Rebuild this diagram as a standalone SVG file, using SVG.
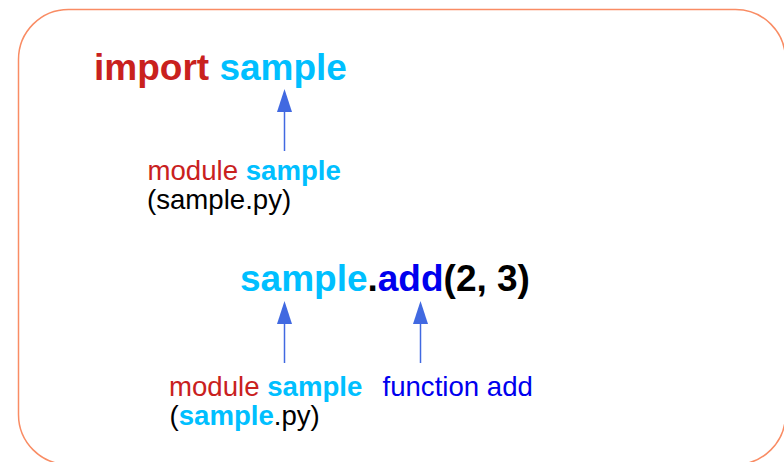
<svg xmlns="http://www.w3.org/2000/svg" width="784" height="462" viewBox="0 0 784 462">
<style>
text{font-family:"Liberation Sans",Arial,sans-serif;}
.big{font-size:37px;font-weight:bold;}
.lbl{font-size:27.6px;}
.red{fill:#c9211e;}
.sky{fill:#00bfff;font-weight:bold;}
.blue{fill:#0000ee;}
.blk{fill:#000000;}
.conn{stroke:#4169e1;stroke-width:1.5;fill:none;marker-end:url(#ah);}
</style>
<defs>
<marker id="ah" viewBox="0 0 23 15" refX="0" refY="7.5" markerWidth="23" markerHeight="15" markerUnits="userSpaceOnUse" orient="auto">
<path d="M0,0 L23,7.5 L0,15 Z" fill="#4169e1"/>
</marker>
</defs>
<rect id="frame" x="18.5" y="9.5" width="767" height="455" rx="50" ry="50" fill="none" stroke="#f98c64" stroke-width="1.5"/>
<g id="import-stmt">
<text class="big" x="94" y="80"><tspan class="red">import</tspan> <tspan class="sky">sample</tspan></text>
</g>
<g id="module-label-1">
<text class="lbl" x="147.5" y="180"><tspan class="red">module</tspan> <tspan class="sky">sample</tspan></text>
<text class="lbl blk" x="147" y="209">(sample.py)</text>
</g>
<g id="call-stmt">
<text class="big" x="240" y="291"><tspan class="sky">sample</tspan><tspan class="blk">.</tspan><tspan class="blue">add</tspan><tspan class="blk">(2, 3)</tspan></text>
</g>
<g id="module-label-2">
<text class="lbl" x="169" y="396"><tspan class="red">module</tspan> <tspan class="sky">sample</tspan></text>
<text class="lbl blk" x="169.5" y="425">(<tspan class="sky">sample</tspan>.py)</text>
</g>
<g id="function-label">
<text class="lbl blue" x="382.5" y="396">function add</text>
</g>
<g id="connectors">
<path class="conn" d="M284.5,151 V112"/>
<path class="conn" d="M284.5,363 V324"/>
<path class="conn" d="M420.5,363 V324"/>
</g>
</svg>
